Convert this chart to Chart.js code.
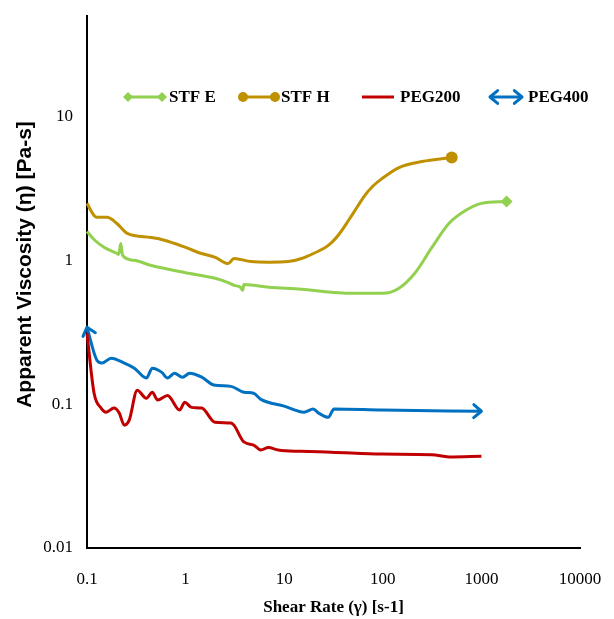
<!DOCTYPE html>
<html>
<head>
<meta charset="utf-8">
<script src="https://cdn.jsdelivr.net/npm/chart.js@4.4.1/dist/chart.umd.min.js"></script>
<style>
  body { margin: 0; background: #fff; }
  #wrap { width: 614px; height: 619px; }
</style>
</head>
<body>
<div id="wrap"><canvas id="viscosity_chart"></canvas></div>
<script>
// shear rate [s-1] and apparent viscosity [Pa-s]
let stfE_rate = [0.1, 0.12, 0.15, 0.2, 0.21, 0.22, 0.23, 0.3, 0.45, 1, 2, 2.7, 3.1, 3.6, 3.8, 3.9, 7, 15, 30, 45, 100, 146, 210, 315, 470, 690, 1000, 1800];
let stfE_visc = [1.59, 1.38, 1.23, 1.12, 1.10, 1.31, 1.08, 1.0, 0.92, 0.82, 0.75, 0.70, 0.67, 0.65, 0.62, 0.68, 0.65, 0.63, 0.60, 0.59, 0.59, 0.64, 0.81, 1.23, 1.81, 2.22, 2.49, 2.57];

let stfH_rate = [0.1, 0.118, 0.126, 0.16, 0.2, 0.256, 0.45, 0.61, 1, 1.42, 2, 2.7, 3.1, 4.6, 7, 11, 15, 20, 28, 36, 45, 55, 65, 80, 98, 146, 250, 500];
let stfH_visc = [2.49, 2.05, 1.99, 1.99, 1.81, 1.54, 1.44, 1.38, 1.23, 1.12, 1.05, 0.95, 1.03, 0.98, 0.97, 0.98, 1.03, 1.12, 1.27, 1.52, 1.90, 2.35, 2.80, 3.30, 3.70, 4.42, 4.87, 5.19];

let peg200_rate = [0.1, 0.118, 0.139, 0.156, 0.188, 0.212, 0.239, 0.268, 0.323, 0.4, 0.46, 0.52, 0.656, 0.87, 0.98, 1.15, 1.46, 1.98, 2.88, 3.09, 3.9, 4.9, 5.8, 6.9, 8.7, 14.9, 30, 98, 315, 469, 1000];
let peg200_visc = [0.311, 0.119, 0.094, 0.088, 0.094, 0.087, 0.0715, 0.0775, 0.125, 0.11, 0.121, 0.107, 0.115, 0.091, 0.103, 0.095, 0.094, 0.075, 0.074, 0.0715, 0.0546, 0.052, 0.048, 0.05, 0.048, 0.047, 0.0464, 0.045, 0.0445, 0.043, 0.0435];

let peg400_rate = [0.1, 0.126, 0.142, 0.176, 0.239, 0.302, 0.4, 0.46, 0.57, 0.656, 0.77, 0.93, 1.1, 1.46, 1.93, 2.88, 3.9, 4.9, 5.8, 10, 15.9, 19.7, 22.2, 28, 32, 98, 1000];
let peg400_visc = [0.343, 0.202, 0.193, 0.209, 0.193, 0.178, 0.152, 0.178, 0.167, 0.152, 0.164, 0.154, 0.164, 0.154, 0.136, 0.133, 0.121, 0.119, 0.108, 0.097, 0.088, 0.0925, 0.087, 0.081, 0.0925, 0.091, 0.0893];

let x_tick_values = [0.1, 1, 10, 100, 1000, 10000];
let x_tick_labels = ['0.1', '1', '10', '100', '1000', '10000'];
let y_tick_values = [0.01, 0.1, 1, 10];
let y_tick_labels = ['0.01', '0.1', '1', '10'];

let series_names = ['STF E', 'STF H', 'PEG200', 'PEG400'];
let series_colors = ['#92D050', '#BF9000', '#C00000', '#0070C0'];

function toPoints(xs, ys) {
    return xs.map((x, i) => ({ x: x, y: ys[i] }));
}

function lastOnly(size) {
    return function(ctx) {
        return ctx.dataIndex === ctx.dataset.data.length - 1 ? size : 0;
    };
}

function drawArrow(ctx, tipX, tipY, fromX, fromY, color) {
    let ang = Math.atan2(tipY - fromY, tipX - fromX);
    let len = 10, spread = 0.7;
    ctx.save();
    ctx.strokeStyle = color;
    ctx.lineWidth = 3;
    ctx.lineCap = 'round';
    ctx.lineJoin = 'round';
    ctx.beginPath();
    ctx.moveTo(tipX - len * Math.cos(ang - spread), tipY - len * Math.sin(ang - spread));
    ctx.lineTo(tipX, tipY);
    ctx.lineTo(tipX - len * Math.cos(ang + spread), tipY - len * Math.sin(ang + spread));
    ctx.stroke();
    ctx.restore();
}

// arrow heads on PEG400 and the legend that sits inside the plot
const decorPlugin = {
    id: 'decor',
    afterDatasetsDraw(chart) {
        let ctx = chart.ctx;
        let pts = chart.getDatasetMeta(3).data;
        let n = pts.length;
        drawArrow(ctx, pts[0].x, pts[0].y, pts[1].x, pts[1].y, series_colors[3]);
        drawArrow(ctx, pts[n - 1].x, pts[n - 1].y, pts[n - 2].x, pts[n - 2].y, series_colors[3]);

        let ly = 97;
        let items = [[128, 162, 169], [243, 275, 281], [362, 394, 400], [490, 522, 528]];
        ctx.save();
        items.forEach((it, i) => {
            ctx.strokeStyle = series_colors[i];
            ctx.fillStyle = series_colors[i];
            ctx.lineWidth = 3;
            ctx.beginPath();
            ctx.moveTo(it[0], ly);
            ctx.lineTo(it[1], ly);
            ctx.stroke();
            if (i === 0) {
                [it[0], it[1]].forEach(px => {
                    ctx.beginPath();
                    ctx.moveTo(px, ly - 5);
                    ctx.lineTo(px + 5, ly);
                    ctx.lineTo(px, ly + 5);
                    ctx.lineTo(px - 5, ly);
                    ctx.closePath();
                    ctx.fill();
                });
            } else if (i === 1) {
                [it[0], it[1]].forEach(px => {
                    ctx.beginPath();
                    ctx.arc(px, ly, 5, 0, Math.PI * 2);
                    ctx.fill();
                });
            } else if (i === 3) {
                drawArrow(ctx, it[0], ly, it[1], ly, series_colors[3]);
                drawArrow(ctx, it[1], ly, it[0], ly, series_colors[3]);
            }
            ctx.fillStyle = '#000';
            ctx.font = 'bold 17px "Liberation Serif"';
            ctx.textBaseline = 'middle';
            ctx.textAlign = 'left';
            ctx.fillText(series_names[i], it[2], ly + 1);
        });
        ctx.restore();
    }
};

let ctx = document.getElementById('viscosity_chart');

let line_chart = new Chart(ctx, {
    type: 'line',
    data: {
        datasets: [
            {
                label: series_names[0],
                data: toPoints(stfE_rate, stfE_visc),
                borderColor: series_colors[0],
                backgroundColor: series_colors[0],
                pointStyle: 'rectRot',
                pointRadius: lastOnly(6),
                pointHoverRadius: 0
            },
            {
                label: series_names[1],
                data: toPoints(stfH_rate, stfH_visc),
                borderColor: series_colors[1],
                backgroundColor: series_colors[1],
                pointStyle: 'circle',
                pointRadius: lastOnly(6),
                pointHoverRadius: 0
            },
            {
                label: series_names[2],
                data: toPoints(peg200_rate, peg200_visc),
                borderColor: series_colors[2],
                backgroundColor: series_colors[2],
                pointRadius: 0
            },
            {
                label: series_names[3],
                data: toPoints(peg400_rate, peg400_visc),
                borderColor: series_colors[3],
                backgroundColor: series_colors[3],
                pointRadius: 0
            }
        ]
    },
    options: {
        responsive: true,
        maintainAspectRatio: false,
        animation: false,
        layout: {
            padding: { left: 0, top: 16, right: 34, bottom: 0 }
        },
        elements: {
            line: {
                borderWidth: 3,
                tension: 0.4,
                cubicInterpolationMode: 'monotone'
            },
            point: { borderWidth: 0 }
        },
        datasets: {
            line: { clip: false }
        },
        scales: {
            x: {
                type: 'logarithmic',
                min: 0.1,
                max: 10000,
                grid: { display: false, drawTicks: false },
                border: { display: true, color: '#000', width: 2 },
                afterBuildTicks: function(scale) {
                    scale.ticks = x_tick_values.map(v => ({ value: v }));
                },
                afterFit: function(scale) {
                    scale.height = 71;
                    scale.paddingLeft = 0;
                    scale.paddingRight = 0;
                },
                ticks: {
                    color: '#000',
                    padding: 21,
                    maxRotation: 0,
                    autoSkip: false,
                    font: { family: '"Liberation Serif"', size: 17 },
                    callback: function(value, index) {
                        return x_tick_labels[index];
                    }
                },
                title: {
                    display: true,
                    text: 'Shear Rate (\u03B3) [s-1]',
                    color: '#000',
                    padding: { top: 0, bottom: 1 },
                    font: { family: '"Liberation Serif"', size: 17, weight: 'bold' }
                }
            },
            y: {
                type: 'logarithmic',
                min: 0.01,
                max: 50,
                grid: { display: false, drawTicks: false },
                border: { display: true, color: '#000', width: 2 },
                afterBuildTicks: function(scale) {
                    scale.ticks = y_tick_values.map(v => ({ value: v }));
                },
                afterFit: function(scale) {
                    scale.width = 87;
                    scale.paddingTop = 0;
                    scale.paddingBottom = 0;
                },
                ticks: {
                    color: '#000',
                    padding: 14,
                    autoSkip: false,
                    font: { family: '"Liberation Serif"', size: 17 },
                    callback: function(value, index) {
                        return y_tick_labels[index];
                    }
                },
                title: {
                    display: true,
                    text: '      Apparent Viscosity (\u03B7) [Pa-s]',
                    color: '#000',
                    padding: { top: 13, bottom: 0 },
                    font: { family: '"Liberation Sans"', size: 21, weight: 'bold' }
                }
            }
        },
        plugins: {
            legend: { display: false },
            tooltip: { enabled: false }
        }
    },
    plugins: [decorPlugin]
});
</script>
</body>
</html>
